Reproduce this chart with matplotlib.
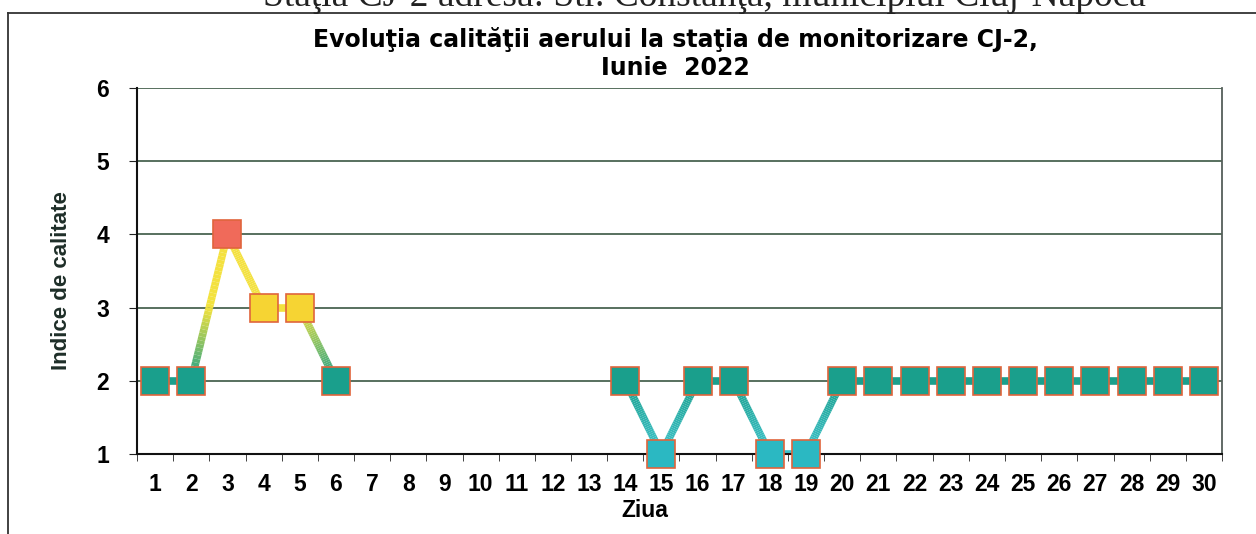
import numpy as np
import matplotlib
matplotlib.use("Agg")
import matplotlib.pyplot as plt
from matplotlib.collections import LineCollection
from matplotlib.colors import LinearSegmentedColormap
from matplotlib.lines import Line2D

days = list(range(1, 31))
values = [2, 2, 4, 3, 3, 2, None, None, None, None, None, None, None,
          2, 1, 2, 2, 1, 1, 2, 2, 2, 2, 2, 2, 2, 2, 2, 2, 2]
y_ticks = [1, 2, 3, 4, 5, 6]
title_line1 = "Evoluţia calităţii aerului la staţia de monitorizare CJ-2,"
title_line2 = "Iunie  2022"
page_header = "Staţia CJ-2 adresa: Str. Constanţa, municipiul Cluj-Napoca"

marker_colors = {1: "#2bb8c2", 2: "#1a9f8c", 3: "#f6d433", 4: "#f06a5a"}
line_cmap = LinearSegmentedColormap.from_list(
    "aq", [(0.0, "#3fc3cc"), (1 / 3, "#1a9f8c"), (2 / 3, "#f2e23e"), (1.0, "#f5e040")])

plt.rcParams['font.family'] = ['Liberation Sans', 'DejaVu Sans']

W, H = 1256, 534
fig = plt.figure(figsize=(W / 100, H / 100), dpi=100)
fig.patch.set_facecolor("white")
ax = fig.add_axes([137 / W, 1 - 454 / H, (1222 - 137) / W, (454 - 88) / H])

# outer frame of the chart (page scan)
fig.add_artist(Line2D([8 / W, 1.0], [1 - 13 / H, 1 - 13 / H], color="#333333", lw=1.3))
fig.add_artist(Line2D([8 / W, 8 / W], [0, 1 - 13 / H], color="#333333", lw=1.3))
fig.text(704 / W, 1 - 6 / H, page_header, family="Liberation Serif", fontsize=27,
         ha="center", va="baseline", color="#222222")

# gridlines
for yv in y_ticks:
    ax.axhline(yv, color="#4a6452", lw=1.3, zorder=1)

# gradient line segments
segs, cols = [], []
for i in range(len(days) - 1):
    a, b = values[i], values[i + 1]
    if a is None or b is None:
        continue
    n = 40
    xs = np.linspace(days[i], days[i + 1], n + 1)
    ys = np.linspace(a, b, n + 1)
    for k in range(n):
        segs.append([(xs[k], ys[k]), (xs[k + 1], ys[k + 1])])
        cols.append(line_cmap(((ys[k] + ys[k + 1]) / 2 - 1) / 3))
lc = LineCollection(segs, colors=cols, linewidths=5.5, capstyle="butt", zorder=2)
ax.add_collection(lc)

for d, v in zip(days, values):
    if v is None:
        continue
    ax.plot(d, v, marker="s", markersize=19.5, markerfacecolor=marker_colors[v],
            markeredgecolor="#e0653c", markeredgewidth=1.2, zorder=3, linestyle="none",
            clip_on=False)

ax.set_xlim(0.5, 30.5)
ax.set_ylim(1, 6)
ax.set_xticks(days)
ax.set_xticklabels([str(d) for d in days], fontsize=16.5, fontweight="bold")
ax.set_xticks(np.arange(0.5, 31, 1), minor=True)
ax.tick_params(axis="x", which="major", length=0, pad=14)
ax.tick_params(axis="x", which="minor", length=5, direction="out", color="#222222")
ax.set_yticks(y_ticks)
ax.set_yticklabels([str(v) for v in y_ticks], fontsize=16.5, fontweight="bold")
ax.tick_params(axis="y", length=6, direction="out", pad=14, color="#222222")
ax.set_xlabel("Ziua", fontsize=16.5, fontweight="bold")
ax.xaxis.set_label_coords(0.468, -0.124)
ax.set_ylabel("Indice de calitate", fontsize=16, fontweight="bold", color="#1e2e28")
ax.yaxis.set_label_coords(-0.06, 0.475)

for s in ["left", "bottom"]:
    ax.spines[s].set_color("#111111")
    ax.spines[s].set_linewidth(1.5)
ax.spines["top"].set_visible(False)
ax.spines["right"].set_color("#555f5a")
ax.spines["right"].set_linewidth(1.3)

fig.text(675 / W, 1 - 40 / H, title_line1, ha="center", va="center", fontsize=17,
         fontweight="bold", family="DejaVu Sans")
fig.text(675 / W, 1 - 68 / H, title_line2, ha="center", va="center", fontsize=17,
         fontweight="bold", family="DejaVu Sans")

fig.savefig("out.png", dpi=100, facecolor="white")
